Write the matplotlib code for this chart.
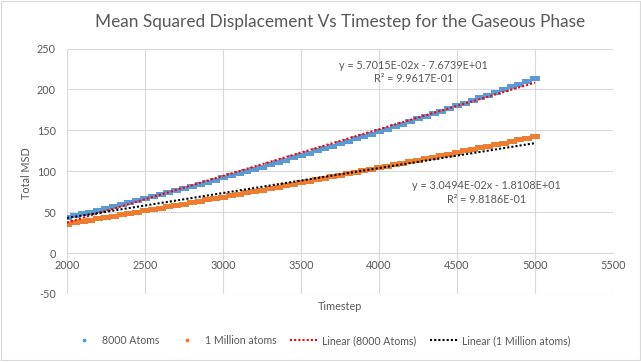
import matplotlib
matplotlib.use("Agg")
import matplotlib.pyplot as plt
from matplotlib.lines import Line2D
from matplotlib.patches import Rectangle
import numpy as np

plt.rcParams['font.family'] = ['Lato', 'DejaVu Sans']
plt.rcParams['axes.unicode_minus'] = False

# ---- data ----
timestep = list(range(2000, 5001, 50))
msd_8000 = [43.94, 46.16, 48.41, 50.68, 52.97, 55.27, 57.60, 59.95, 62.32, 64.72,
            67.13, 69.56, 72.01, 74.49, 76.98, 79.50, 82.03, 84.59, 87.17, 89.76,
            92.38, 95.02, 97.68, 100.36, 103.06, 105.78, 108.53, 111.29, 114.07, 116.88,
            119.70, 122.55, 125.41, 128.30, 131.21, 134.13, 137.08, 140.05, 143.04, 146.05,
            149.08, 152.13, 155.21, 158.30, 161.41, 164.55, 167.70, 170.88, 174.07, 177.29,
            180.53, 183.79, 187.06, 190.36, 193.68, 197.02, 200.39, 203.77, 207.17, 210.59,
            214.04]
msd_1m = [36.00, 37.59, 39.18, 40.78, 42.39, 44.00, 45.62, 47.25, 48.88, 50.52,
          52.17, 53.82, 55.48, 57.15, 58.82, 60.50, 62.19, 63.88, 65.58, 67.29,
          69.00, 70.72, 72.45, 74.18, 75.92, 77.67, 79.42, 81.18, 82.95, 84.72,
          86.50, 88.29, 90.08, 91.88, 93.69, 95.50, 97.32, 99.15, 100.98, 102.82,
          104.67, 106.52, 108.38, 110.25, 112.12, 114.00, 115.89, 117.78, 119.68, 121.59,
          123.50, 125.42, 127.35, 129.28, 131.22, 133.17, 135.12, 137.08, 139.05, 141.02,
          143.00]
fit_8000 = (5.7015e-02, -7.6739e+01)
fit_1m = (3.0494e-02, -1.8108e+01)
r2_8000 = 9.9617e-01
r2_1m = 9.8186e-01
series_names = ["8000 Atoms", "1 Million atoms", "Linear (8000 Atoms)", "Linear (1 Million atoms)"]
xticks = list(range(2000, 5501, 500))
yticks = list(range(-50, 251, 50))

BLUE = "#5B9BD5"
ORANGE = "#ED7D31"
GRID = "#D9D9D9"
TXT = "#595959"

W, H = 641, 362
fig = plt.figure(figsize=(W / 100, H / 100), dpi=100)
fig.patches.append(Rectangle((0.5 / W, 2.5 / H), (W - 2) / W, (H - 3.5) / H,
                             transform=fig.transFigure, fill=False,
                             edgecolor=GRID, linewidth=0.8))

L, R, T, B = 67, 613, 48.5, 294
ax = fig.add_axes([L / W, 1 - B / H, (R - L) / W, (B - T) / H])
ax.set_xlim(2000, 5500)
ax.set_ylim(-50, 250)
ax.set_xticks(xticks)
ax.set_yticks(yticks)
ax.grid(True, color=GRID, linewidth=0.8)
ax.set_axisbelow(True)
for s in ['top', 'right', 'left']:
    ax.spines[s].set_visible(False)
ax.spines['bottom'].set_position(('data', 0))
ax.spines['bottom'].set_color(GRID)
ax.spines['bottom'].set_linewidth(0.8)
ax.tick_params(axis='both', length=0, labelsize=7.8, labelcolor=TXT)
ax.tick_params(axis='y', pad=8)
ax.tick_params(axis='x', pad=5)

rect = [(-1.0, -0.5), (1.0, -0.5), (1.0, 0.5), (-1.0, 0.5)]
ax.plot(timestep, msd_8000, linestyle='none', marker=rect, markersize=7.2,
        markerfacecolor=BLUE, markeredgewidth=0, zorder=3)
ax.plot(timestep, msd_1m, linestyle='none', marker=rect, markersize=7.2,
        markerfacecolor=ORANGE, markeredgewidth=0, zorder=3)

xs = np.array([timestep[0], timestep[-1]])
ax.plot(xs, fit_8000[0] * xs + fit_8000[1], color='#FF0000', lw=1.5,
        linestyle=(0, (1, 1)), zorder=4)
ax.plot(xs, fit_1m[0] * xs + fit_1m[1], color='#000000', lw=1.5,
        linestyle=(0, (1, 1)), zorder=4)

def eq_text(m, c, r2):
    return "y = %.4E" % m + "x - " + "%.4E" % (-c) + "\nR² = %.4E" % r2

ax.text(4223, 221, eq_text(*fit_8000, r2_8000), ha='center', va='center',
        fontsize=7.8, color=TXT, linespacing=1.25)
ax.text(4691, 74, eq_text(*fit_1m, r2_1m), ha='center', va='center',
        fontsize=7.8, color=TXT, linespacing=1.25)

fig.text(0.5 * (L + R) / W, 1 - 22.5 / H,
         "Mean Squared Displacement Vs Timestep for the Gaseous Phase",
         ha='center', va='center', fontsize=12.4, color=TXT)
fig.text(340 / W, 1 - 306 / H, "Timestep", ha='center', va='center',
         fontsize=7.8, color=TXT)
fig.text(26.7 / W, 1 - 173 / H, "Total MSD", ha='center', va='center',
         rotation=90, fontsize=7.8, color=TXT)

handles = [
    Line2D([], [], linestyle='none', marker='o', markersize=1.8, color=BLUE),
    Line2D([], [], linestyle='none', marker='o', markersize=1.8, color=ORANGE),
    Line2D([], [], color='#FF0000', lw=1.5, linestyle=(0, (1, 1))),
    Line2D([], [], color='#000000', lw=1.5, linestyle=(0, (1, 1))),
]
fig.legend(handles, series_names, loc='center', bbox_to_anchor=(0.5, 1 - 340.5 / H),
           ncol=4, frameon=False, fontsize=7.6, labelcolor=TXT, numpoints=1,
           handlelength=2.6, handletextpad=0.4, columnspacing=1.3)

fig.savefig("out.png", dpi=100)
